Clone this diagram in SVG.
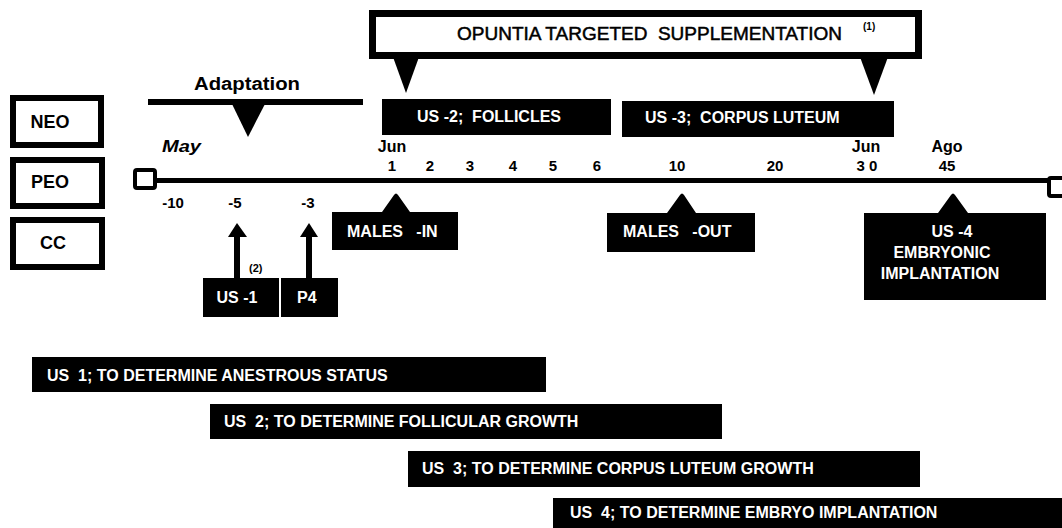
<svg xmlns="http://www.w3.org/2000/svg" width="1062" height="528" viewBox="0 0 1062 528">
<style>
text{font-family:"Liberation Sans",Arial,sans-serif;font-weight:bold;white-space:pre}
.lbl{font-size:18px;fill:#000}
.num{font-size:15px;fill:#000}
.mon{font-size:16px;fill:#000}
.w{font-size:16px;fill:#fff}
.blk{fill:#000}
.frame{fill:#fff;stroke:#000;stroke-width:6}
</style>
<rect width="1062" height="528" fill="#fff"/>

<g id="node-neo"><rect class="frame" x="13" y="98" width="88" height="47"/><text class="lbl" x="50" y="128" text-anchor="middle">NEO</text></g>
<g id="node-peo"><rect class="frame" x="13" y="160" width="89" height="46"/><text class="lbl" x="50" y="188" text-anchor="middle">PEO</text></g>
<g id="node-cc"><rect class="frame" x="13" y="220" width="89" height="47"/><text class="lbl" x="53" y="249" text-anchor="middle">CC</text></g>

<g id="timeline">
<line x1="155" y1="180.5" x2="1049" y2="180.5" stroke="#000" stroke-width="5"/>
<rect x="135" y="170" width="20" height="18" rx="2" fill="#fff" stroke="#000" stroke-width="4"/>
<rect x="1049" y="178" width="22" height="18" rx="2" fill="#fff" stroke="#000" stroke-width="4"/>
<text class="mon" x="162" y="152" font-style="italic" font-size="17" textLength="39" lengthAdjust="spacingAndGlyphs">May</text>
<text class="mon" x="392" y="152" text-anchor="middle">Jun</text>
<text class="mon" x="866" y="152" text-anchor="middle">Jun</text>
<text class="mon" x="947" y="152" text-anchor="middle">Ago</text>
<text class="num" x="392" y="171" text-anchor="middle">1</text>
<text class="num" x="430" y="171" text-anchor="middle">2</text>
<text class="num" x="470" y="171" text-anchor="middle">3</text>
<text class="num" x="513" y="171" text-anchor="middle">4</text>
<text class="num" x="553" y="171" text-anchor="middle">5</text>
<text class="num" x="597" y="171" text-anchor="middle">6</text>
<text class="num" x="677" y="171" text-anchor="middle">10</text>
<text class="num" x="775" y="171" text-anchor="middle">20</text>
<text class="num" x="867" y="171" text-anchor="middle">3 0</text>
<text class="num" x="947" y="171" text-anchor="middle">45</text>
<text class="num" x="173" y="208" text-anchor="middle">-10</text>
<text class="num" x="235" y="208" text-anchor="middle">-5</text>
<text class="num" x="308" y="208" text-anchor="middle">-3</text>
</g>

<g id="adaptation">
<text x="194" y="90" font-size="18" textLength="106" lengthAdjust="spacingAndGlyphs">Adaptation</text>
<rect class="blk" x="148" y="99" width="215" height="6"/>
<polygon class="blk" points="232,104 265,104 248,137"/>
</g>

<g id="opuntia">
<rect x="372.5" y="13.5" width="546" height="42" fill="#fff" stroke="#000" stroke-width="7"/>
<polygon class="blk" points="393,57 419,57 406,93"/>
<polygon class="blk" points="860,57 888,57 874,95"/>
<text x="457" y="40" font-size="19" style="font-weight:normal" stroke="#000" stroke-width="0.5">OPUNTIA TARGETED  SUPPLEMENTATION</text>
<text x="863" y="30" font-size="10">(1)</text>
</g>

<g id="us2-follicles"><rect class="blk" x="382" y="99" width="229" height="36"/><text class="w" x="417" y="122">US -2;  FOLLICLES</text></g>
<g id="us3-corpus"><rect class="blk" x="622" y="101" width="272" height="36"/><text class="w" x="645" y="123">US -3;  CORPUS LUTEUM</text></g>

<g id="males-in"><path class="blk" d="M332,212 L382,212 L394,195 Q396,192 398,195 L410,212 L458,212 L458,250 L332,250 Z"/><text class="w" x="347" y="237">MALES   -IN</text></g>
<g id="males-out"><path class="blk" d="M607,213 L667,213 L680,195 Q682,192 684,195 L696,213 L755,213 L755,252 L607,252 Z"/><text class="w" x="623" y="237">MALES   -OUT</text></g>
<g id="us4-embryonic"><path class="blk" d="M864,213 L938,213 L951,195 Q953,192 955,195 L968,213 L1046,213 L1046,300 L864,300 Z"/>
<text class="w" x="952" y="237" text-anchor="middle">US -4</text>
<text class="w" x="942" y="258" text-anchor="middle">EMBRYONIC</text>
<text class="w" x="940" y="279" text-anchor="middle">IMPLANTATION</text></g>

<g id="us1-node"><rect class="blk" x="203" y="278" width="76" height="39"/><text class="w" x="237" y="303" text-anchor="middle">US -1</text></g>
<g id="p4-node"><rect class="blk" x="281" y="278" width="57" height="39"/><text class="w" x="297" y="303">P4</text></g>
<text x="249" y="272" font-size="11">(2)</text>

<g id="connectors">
<rect class="blk" x="234" y="236" width="6" height="42"/>
<polygon class="blk" points="228,237 237,223 247,237"/>
<rect class="blk" x="306" y="236" width="6" height="42"/>
<polygon class="blk" points="300,237 309,223 318,237"/>
</g>

<g id="bar-us1"><rect class="blk" x="32" y="357" width="514" height="35"/><text class="w" x="47" y="381">US  1; TO DETERMINE ANESTROUS STATUS</text></g>
<g id="bar-us2"><rect class="blk" x="210" y="404" width="512" height="35"/><text class="w" x="224" y="427">US  2; TO DETERMINE FOLLICULAR GROWTH</text></g>
<g id="bar-us3"><rect class="blk" x="408" y="451" width="512" height="36"/><text class="w" x="422" y="474">US  3; TO DETERMINE CORPUS LUTEUM GROWTH</text></g>
<g id="bar-us4"><rect class="blk" x="553" y="498" width="509" height="30"/><text class="w" x="570" y="518">US  4; TO DETERMINE EMBRYO IMPLANTATION</text></g>
</svg>
